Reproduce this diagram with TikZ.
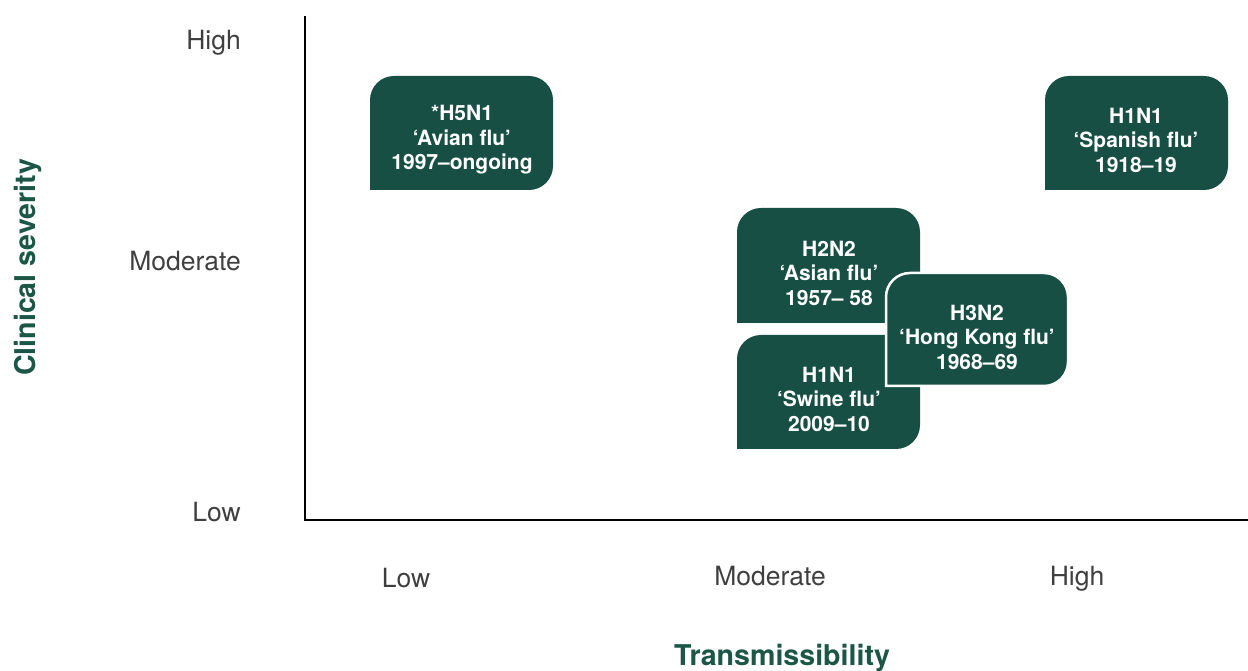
\documentclass[tikz,border=0pt]{standalone}
\usepackage{fontspec}
\setmainfont{TeX Gyre Heros}
\definecolor{boxgreen}{HTML}{184F45}
\definecolor{titlegreen}{HTML}{1B5647}
\definecolor{labgray}{HTML}{3F3F3F}
% box shape: rounded except bottom-left; args: x1,y1(bottom),x2,y2(top),style
\newcommand{\flubox}[5]{%
  \fill[#5] (#1,#2) -- (#1,#4-24) arc[start angle=180,end angle=90,radius=24]
    -- (#3-24,#4) arc[start angle=90,end angle=0,radius=24]
    -- (#3,#2+24) arc[start angle=0,end angle=-90,radius=24] -- cycle;}
\begin{document}
\begin{tikzpicture}[x=1pt,y=1pt,
  boxtext/.style={text=white, font=\fontsize{21}{24.5}\selectfont\bfseries, align=center, inner sep=0pt},
  axislab/.style={text=labgray, font=\fontsize{26.5}{30}\selectfont, inner sep=0pt},
  axistitle/.style={text=titlegreen, font=\fontsize{28.6}{32}\selectfont\bfseries, inner sep=0pt},
  axisline/.style={line width=2pt, black},
  boxfill/.style={fill=boxgreen},
  boxframed/.style={fill=boxgreen, draw=white, line width=2.5pt}]
\useasboundingbox (0,0) rectangle (1248,671);
% axes
\coordinate (ytop) at (305,655);
\coordinate (origin) at (305,151);
\coordinate (xend) at (1248,151);
\draw[axisline] (ytop) -- (origin) -- (xend);
% y labels
\node[axislab, anchor=base east] (yhigh) at (241,621.5) {High};
\node[axislab, anchor=base east] (ymod) at (241,400.5) {Moderate};
\node[axislab, anchor=base east] (ylow) at (241,149.5) {Low};
% x labels
\node[axislab, anchor=base] (xlow) at (406,83.5) {Low};
\node[axislab, anchor=base] (xmod) at (770,85.5) {Moderate};
\node[axislab, anchor=base] (xhigh) at (1077,85.5) {High};
% titles
\node[axistitle, anchor=base] (xtitle) at (782,5) {Transmissibility};
\node[axistitle, anchor=base, rotate=90] (ytitle) at (35,403.5) {Clinical severity};
% boxes
\flubox{370}{481}{553}{595}{boxfill}
\node[boxtext] (h5n1) at (462,531) {*H5N1\\‘Avian flu’\\1997–ongoing};
\flubox{1045}{481}{1228}{595}{boxfill}
\node[boxtext] (spanish) at (1136,531) {H1N1\\‘Spanish flu’\\1918–19};
\flubox{737}{348}{920}{463}{boxfill}
\node[boxtext] (asian) at (829,398) {H2N2\\‘Asian flu’\\1957– 58};
\flubox{737}{222}{920}{336}{boxfill}
\node[boxtext] (swine) at (829,272) {H1N1\\‘Swine flu’\\2009–10};
\flubox{886}{285}{1068}{398}{boxframed}
\node[boxtext] (hongkong) at (977,334) {H3N2\\‘Hong Kong flu’\\1968–69};
\end{tikzpicture}
\end{document}
